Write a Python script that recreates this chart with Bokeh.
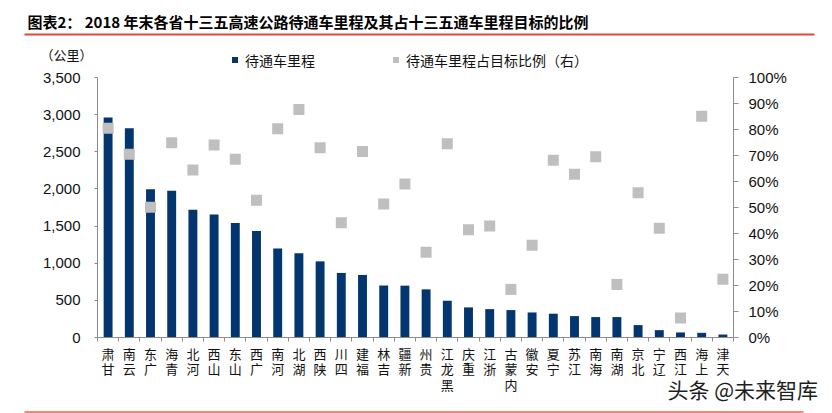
from bokeh.plotting import figure
from bokeh.models import (Range1d, LinearAxis, FixedTicker, NumeralTickFormatter,
                          Legend, LegendItem, Label, BoxAnnotation, ColumnDataSource)
from bokeh.embed import file_html
from bokeh.resources import INLINE

provinces = ["甘肃", "云南", "广东", "青海", "河北", "山西", "山东", "广西", "河南", "湖北",
             "陕西", "四川", "福建", "吉林", "新疆", "贵州", "黑龙江", "重庆", "浙江", "内蒙古",
             "安徽", "宁夏", "江苏", "海南", "湖南", "北京", "辽宁", "江西", "上海", "天津"]
mileage = [2960, 2816, 1997, 1975, 1719, 1655, 1543, 1435, 1197, 1134,
           1025, 869, 842, 700, 698, 648, 495, 405, 382, 369,
           337, 320, 288, 275, 275, 167, 99, 68, 63, 40]
ratio_pct = [80.5, 70.5, 50.1, 74.9, 64.4, 74.0, 68.6, 52.8, 80.3, 87.7,
             73.0, 44.1, 71.5, 51.3, 59.0, 32.8, 74.5, 41.4, 42.9, 18.5,
             35.5, 68.2, 62.8, 69.5, 20.4, 55.7, 42.0, 7.5, 85.1, 22.4]
left_ticks = [0, 500, 1000, 1500, 2000, 2500, 3000, 3500]
right_ticks = [0, 0.1, 0.2, 0.3, 0.4, 0.5, 0.6, 0.7, 0.8, 0.9, 1.0]
left_max = 3500
right_max = 1.0

title_text = "图表2：  2018 年末各省十三五高速公路待通车里程及其占十三五通车里程目标的比例"
series_names = ["待通车里程", "待通车里程占目标比例（右）"]
unit_text = "（公里）"
watermark = "头条 @未来智库"

# ---- layout / style (not data) ----
W, H = 830, 413
PLOT_L, PLOT_R, PLOT_T, PLOT_B = 97, 733, 77, 337
BAR = "#03356F"
GRAY = "#BFBFBF"
AXIS = "#8C8C8C"
RED = "#E2493B"
RED2 = "#EE8A7C"
NUM_FONT = "Liberation Sans"
CJK_FONT = "Noto Sans CJK SC"

n = len(provinces)
idx = list(range(n))
px_per_cat = (PLOT_R - PLOT_L) / n
x0 = -0.5 - PLOT_L / px_per_cat
x1 = x0 + W / px_per_cat
u = left_max / (PLOT_B - PLOT_T)
y0, y1 = -(H - PLOT_B) * u, left_max + PLOT_T * u
u2 = right_max / (PLOT_B - PLOT_T)
r0, r1 = -(H - PLOT_B) * u2, right_max + PLOT_T * u2

src = ColumnDataSource(dict(x=idx, mileage=mileage, ratio=[r / 100 for r in ratio_pct]))

p = figure(width=W, height=H, output_backend="svg", toolbar_location=None,
           x_range=Range1d(x0, x1), y_range=Range1d(y0, y1),
           x_axis_location=None, y_axis_location=None, min_border=0)
p.extra_y_ranges = {"pct": Range1d(r0, r1)}
p.outline_line_color = None
p.xgrid.visible = False
p.ygrid.visible = False
p.background_fill_color = "white"
p.border_fill_color = "white"

bars = p.vbar(x="x", top="mileage", bottom=0, width=0.42, source=src,
              fill_color=BAR, line_color=None)
pts = p.scatter(x="x", y="ratio", source=src, y_range_name="pct", marker="square",
                size=11, fill_color=GRAY, line_color=None)
# zero-size square marker on the bar data: gives the bar series a square legend key
bar_key = p.scatter(x="x", y="mileage", source=src, marker="square", size=0,
                    fill_color=BAR, line_color=None)

# x axis
xa = LinearAxis(fixed_location=0, bounds=(-0.5, n - 0.5),
                ticker=FixedTicker(ticks=idx, minor_ticks=[i - 0.5 for i in range(n + 1)]))
xa.major_label_overrides = {i: "\n".join(reversed(name)) for i, name in zip(idx, provinces)}
xa.major_tick_line_color = None
xa.major_tick_out = 0
xa.major_tick_in = 0
xa.minor_tick_out = 4
xa.minor_tick_in = 0
xa.minor_tick_line_color = AXIS
xa.axis_line_color = AXIS
xa.major_label_standoff = 2
xa.major_label_text_font = CJK_FONT
xa.major_label_text_font_size = "13px"
xa.major_label_text_line_height = 0.82
xa.major_label_text_color = "#111111"
p.add_layout(xa, "below")

# left axis
ya = LinearAxis(fixed_location=-0.5, bounds=(0, left_max), ticker=FixedTicker(ticks=left_ticks),
                formatter=NumeralTickFormatter(format="0,0"))
ya.axis_line_color = AXIS
ya.major_tick_line_color = AXIS
ya.major_tick_out = 3
ya.major_tick_in = 0
ya.minor_tick_line_color = None
ya.major_label_standoff = 14
ya.major_label_text_font = NUM_FONT
ya.major_label_text_font_size = "15px"
ya.major_label_text_color = "#111111"
p.add_layout(ya, "left")

# right axis
ra = LinearAxis(y_range_name="pct", fixed_location=n - 0.5, bounds=(0, right_max),
                ticker=FixedTicker(ticks=right_ticks), formatter=NumeralTickFormatter(format="0%"))
ra.axis_line_color = AXIS
ra.major_tick_line_color = AXIS
ra.major_tick_out = 5
ra.major_tick_in = 0
ra.minor_tick_line_color = None
ra.major_label_standoff = 10
ra.major_label_text_font = NUM_FONT
ra.major_label_text_font_size = "15px"
ra.major_label_text_color = "#111111"
p.add_layout(ra, "right")

legend = Legend(items=[LegendItem(label=series_names[0], renderers=[bar_key]),
                       LegendItem(label=series_names[1], renderers=[pts])],
                location=(227, H - 69.5), orientation="horizontal",
                glyph_width=15, glyph_height=15, label_standoff=3, spacing=73,
                padding=0, margin=0, border_line_color=None, background_fill_alpha=0,
                label_text_font=CJK_FONT, label_text_font_size="14px",
                label_text_color="#111111")
p.add_layout(legend)

# texts (screen units: from frame bottom-left)
p.add_layout(Label(x=27, y=H - 21, x_units="screen", y_units="screen", text=title_text,
                   text_font=CJK_FONT, text_font_size="15px", text_font_style="bold",
                   text_baseline="middle", text_color="#000000"))
p.add_layout(Label(x=40, y=H - 54, x_units="screen", y_units="screen", text=unit_text,
                   text_font=CJK_FONT, text_font_size="13px",
                   text_baseline="middle", text_color="#111111"))
p.add_layout(Label(x=667, y=H - 388.5, x_units="screen", y_units="screen", text=watermark,
                   text_font=CJK_FONT, text_font_size="21px",
                   text_baseline="middle", text_color="#1E1E1E"))

# red rules
p.add_layout(BoxAnnotation(left=24, right=814, top=H - 33, bottom=H - 35,
                           left_units="screen", right_units="screen",
                           top_units="screen", bottom_units="screen",
                           fill_color=RED, fill_alpha=1, line_color=None))
p.add_layout(BoxAnnotation(left=24, right=803, top=H - 410.5, bottom=H - 412.5,
                           left_units="screen", right_units="screen",
                           top_units="screen", bottom_units="screen",
                           fill_color=RED2, fill_alpha=1, line_color=None))

open("out.html", "w").write(file_html(p, INLINE))
